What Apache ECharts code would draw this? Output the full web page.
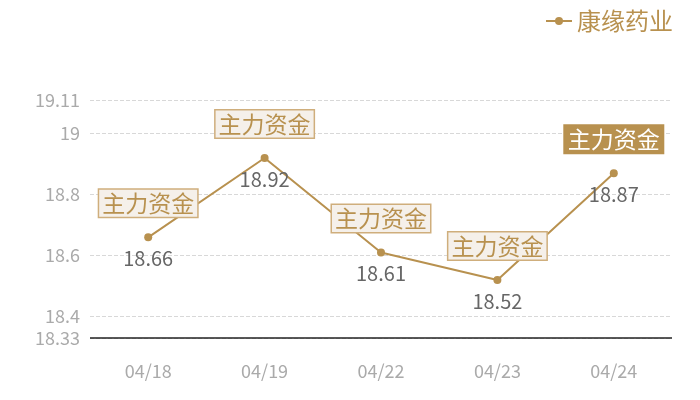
<!DOCTYPE html>
<html><head><meta charset="utf-8">
<script src="https://cdn.jsdelivr.net/npm/echarts@6/dist/echarts.min.js"></script>
<style>html,body{margin:0;padding:0;background:#fff}#c{width:700px;height:400px}</style>
</head><body><div id="c"></div>
<script>
const categories = ['04/18','04/19','04/22','04/23','04/24'];
const prices = [18.66, 18.92, 18.61, 18.52, 18.87];
const seriesName = '康缘药业';
const markText = '主力资金';
const yMin = 18.33, yMax = 19.11;

const gold = '#b8914f';
const font = '"Noto Sans CJK SC", "Noto Sans", sans-serif';

const markData = categories.map((c, i) => {
  const last = i === categories.length - 1;
  return {
    coord: [c, prices[i]],
    value: markText,
    label: last ? {
      color: '#fff', backgroundColor: gold, borderColor: gold
    } : {}
  };
});

const chart = echarts.init(document.getElementById('c'));
chart.setOption({
  animation: false,
  textStyle: { fontFamily: font },
  legend: {
    right: 22, top: 4,
    itemWidth: 26, itemHeight: 10, itemGap: 6,
    textStyle: { color: gold, fontSize: 24, fontFamily: font },
    data: [seriesName]
  },
  grid: { left: 90, right: 28, top: 100, bottom: 62 },
  xAxis: {
    type: 'category', data: categories, boundaryGap: true,
    axisLine: { show: false }, axisTick: { show: false },
    axisLabel: { color: '#aaa', fontSize: 18, margin: 24, fontFamily: font }
  },
  yAxis: {
    type: 'value', min: yMin, max: yMax, splitNumber: 4,
    axisLine: { show: false }, axisTick: { show: false },
    axisLabel: { color: '#aaa', fontSize: 18, margin: 10, fontFamily: font },
    splitLine: { lineStyle: { color: '#d8d8d8', type: 'dashed' } }
  },
  series: [{
    name: seriesName, type: 'line', data: prices,
    symbol: 'circle', symbolSize: 8,
    lineStyle: { color: gold, width: 2 },
    itemStyle: { color: gold },
    label: { show: true, position: 'bottom', distance: 7, color: '#666', fontSize: 20, fontFamily: font },
    markPoint: {
      symbol: 'circle', symbolSize: 0,
      label: {
        show: true, formatter: markText, position: 'inside', offset: [0, -34],
        color: gold, fontSize: 23, fontFamily: font,
        backgroundColor: '#f5f0ea', borderColor: '#cfae7c', borderWidth: 1.5,
        padding: [3, 3, 1, 3]
      },
      data: markData
    }
  }, {
    type: 'line', data: [], markLine: {
      silent: true, symbol: 'none', label: { show: false },
      lineStyle: { color: '#222', type: 'solid', width: 1.5 },
      data: [{ yAxis: yMin }]
    }
  }]
});
</script></body></html>
